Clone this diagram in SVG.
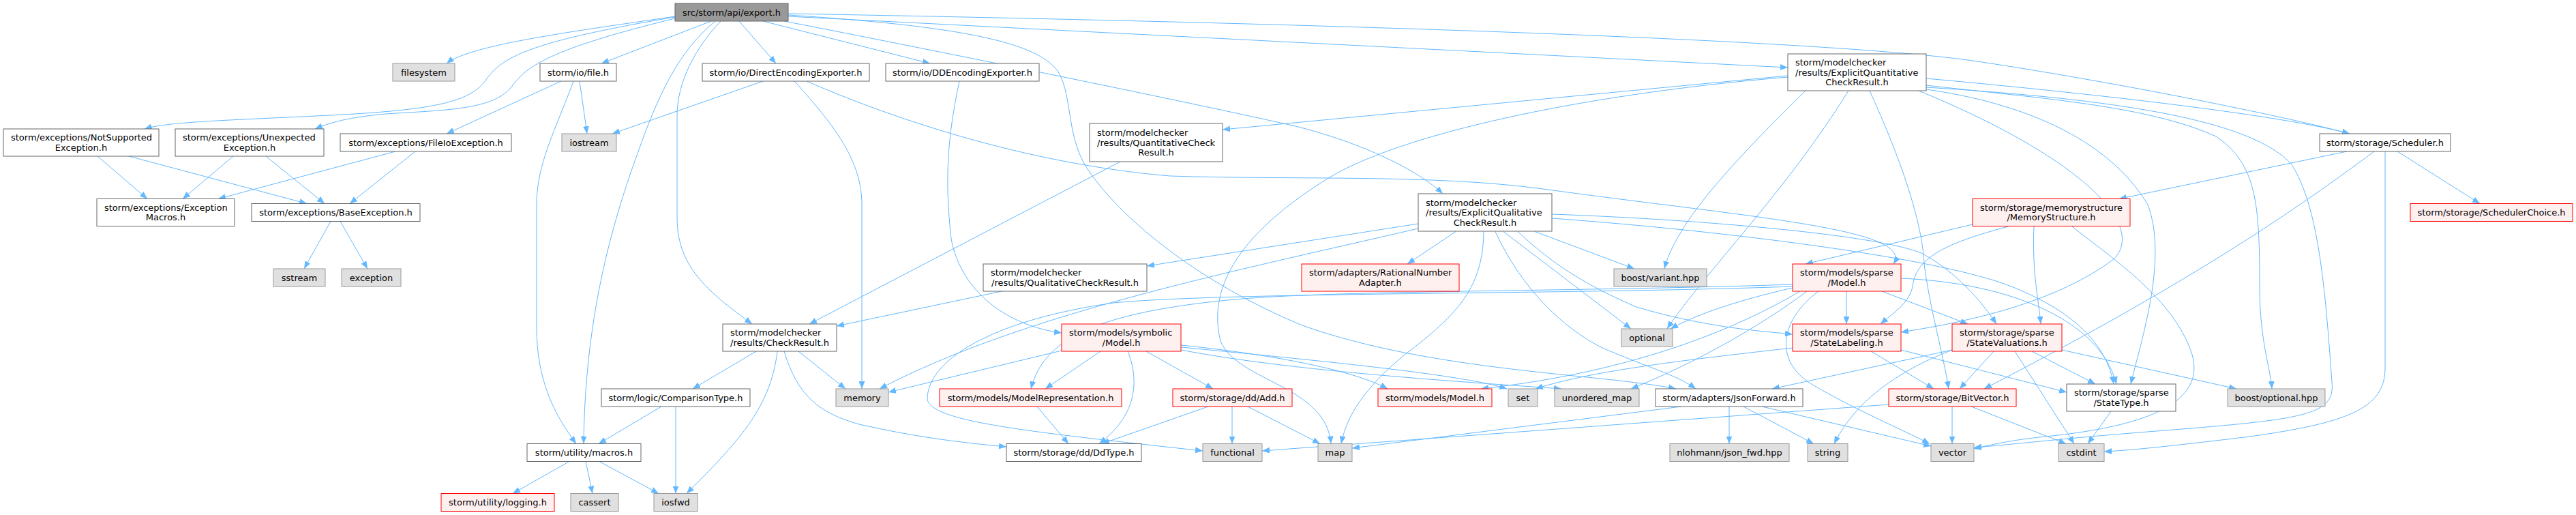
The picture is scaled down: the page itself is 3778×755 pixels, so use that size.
<svg xmlns="http://www.w3.org/2000/svg" width="3778" height="755" viewBox="0 0 3778 755">
<style>
text{font-family:"DejaVu Sans","Liberation Sans",sans-serif;font-size:13px;fill:#000}
.m{text-anchor:middle}
.l{text-anchor:start}
.n rect{fill:#fff;stroke:#666;stroke-width:1}
.x rect{fill:#e0e0e0;stroke:#999;stroke-width:1}
.r rect{fill:#fff0f0;stroke:#f00;stroke-width:1}
.root rect{fill:#999;stroke:#666;stroke-width:1}
#edges path{fill:none;stroke:#63b8ff;stroke-width:1;marker-end:url(#a)}
</style>
<defs>
<marker id="a" markerWidth="11" markerHeight="9" refX="11" refY="4.5" orient="auto" markerUnits="userSpaceOnUse"><path d="M0,0 L11,4.5 L0,9 z" fill="#63b8ff"/></marker>
</defs>
<rect width="3778" height="755" fill="#fff"/>
<g id="edges">
<path d="M990,24 C850,45 690,65 655,93"/>
<path d="M990,25 C770,62 735,85 712,118 C690,150 630,160 520,167 C360,176 250,177 212,189"/>
<path d="M990,27 C805,72 772,98 752,125 C728,158 670,161 580,166 C520,170 488,178 462,189"/>
<path d="M1043,31 L882,93"/>
<path d="M1049,31 C995,75 965,140 935,225 C895,335 858,470 856,650.5"/>
<path d="M841,119 C815,190 787,240 787,300 L787,480 C787,560 815,610 845,650.5"/>
<path d="M1057,31 C1020,70 993,120 993,170 L993,320 C993,395 1045,432 1103,475"/>
<path d="M1084,31 L1138,93"/>
<path d="M1119,31 L1364,93"/>
<path d="M1156,20 C2000,35 2700,60 2900,90 C3100,120 3350,170 3446,196"/>
<path d="M1156,24 L2622,99"/>
<path d="M1150,31 C1300,60 1700,140 1900,185 C2000,210 2080,250 2116,284"/>
<path d="M1156,22 C1400,38 1520,60 1552,105 C1575,145 1562,205 1600,255 C1650,325 1760,415 1910,477 C2100,545 2350,548 2458,570"/>
<path d="M823,119 L655,196"/>
<path d="M850,119 L861,196"/>
<path d="M1119,119 L898,196"/>
<path d="M1165,119 C1230,190 1264,240 1264,300 L1264,570"/>
<path d="M1183,119 C1300,170 1500,240 1716,258 C1900,264 2100,255 2263,277 C2560,318 2810,335 2777,387"/>
<path d="M1407,119 C1390,200 1385,260 1395,350 C1410,430 1480,478 1557,488"/>
<path d="M143,229 L216,291.5"/>
<path d="M189,229 L450,298.5"/>
<path d="M342,229 L268,291.5"/>
<path d="M390,229 L476,298.5"/>
<path d="M580,222 L320,291.5"/>
<path d="M609,222 L513,298.5"/>
<path d="M485,324.5 L446,394"/>
<path d="M499,324.5 L539,394"/>
<path d="M1109,515 L1016,570"/>
<path d="M1140,515 C1130,600 1080,650 1007,723.5"/>
<path d="M1171,515 L1240,570"/>
<path d="M1150,515 C1170,580 1200,605 1260,622 C1340,640 1400,648 1476,655"/>
<path d="M970,596 L878,650.5"/>
<path d="M991,596 L991,723.5"/>
<path d="M835,676.5 L752,723.5"/>
<path d="M859,676.5 L869,723.5"/>
<path d="M879,676.5 L966,723.5"/>
<path d="M1643,237 L1187,475"/>
<path d="M1469,427 L1227,478"/>
<path d="M1557,514 L1303,575"/>
<path d="M1614,515 L1533,570"/>
<path d="M1654,515 C1672,560 1666,610 1612,650.5"/>
<path d="M1681,515 L1779,570"/>
<path d="M1732,506 C1850,518 1980,540 2035,570"/>
<path d="M1732,509 C1950,530 2150,550 2210,570"/>
<path d="M1732,513 C1900,545 2150,560 2290,570"/>
<path d="M1521,596 L1567,650.5"/>
<path d="M1772,596 L1616,650.5"/>
<path d="M1807,596 L1807,650.5"/>
<path d="M1830,596 L1936,650.5"/>
<path d="M2080,328 L1682,390"/>
<path d="M2080,335 C1800,400 1500,460 1290,570"/>
<path d="M2629,417 C2300,428 1950,425 1800,440 C1600,460 1530,500 1512,570"/>
<path d="M2629,420 C2300,432 1800,428 1633,444 C1450,470 1360,530 1360,585 C1365,618 1500,632 1764,661"/>
<path d="M2640,427 C2550,480 2400,545 2172,570"/>
<path d="M2708,427 L2708,475"/>
<path d="M2760,427 L2886,475"/>
<path d="M2788,408 C2950,415 3080,470 3104,563"/>
<path d="M2667,427 C2610,470 2600,530 2660,565 C2720,600 2790,630 2830,650.5"/>
<path d="M2650,427 C2580,480 2480,535 2392,570"/>
<path d="M2629,422 C2550,440 2490,460 2450,482"/>
<path d="M2744,515 L2836,570"/>
<path d="M2788,513 L3031,575"/>
<path d="M2629,510 C2450,530 2330,545 2252,570"/>
<path d="M2924,515 L2874,570"/>
<path d="M2980,515 L3073,563"/>
<path d="M2955,515 L3042,650.5"/>
<path d="M2863,513 C2780,545 2720,590 2690,650.5"/>
<path d="M2863,513 L2599,570"/>
<path d="M3024,513 L3280,570"/>
<path d="M2863,596 L2863,650.5"/>
<path d="M2891,596 L3030,650.5"/>
<path d="M2770,593 L1851,661"/>
<path d="M2536,596 L2536,650.5"/>
<path d="M2466,596 L1983,657"/>
<path d="M2557,596 L2660,650.5"/>
<path d="M2584,596 L2832,654"/>
<path d="M3096,603 L3062,650.5"/>
<path d="M3442,222 L3108,291.5"/>
<path d="M3516,222 L3637,298.5"/>
<path d="M3482,222 C3350,320 3200,420 2910,570"/>
<path d="M3498,222 L3498,540 C3498,600 3440,620 3300,640 C3200,652 3130,660 3086,662"/>
<path d="M2825,125 C3000,145 3150,155 3250,200 C3310,240 3314,300 3314,420 C3314,500 3330,540 3332,570"/>
<path d="M2825,115 C3100,140 3350,170 3446,196"/>
<path d="M2825,128 C3100,145 3300,175 3360,240 C3400,300 3410,420 3420,560 C3425,610 3380,615 3150,633 C3000,645 2950,652 2895,656"/>
<path d="M2622,111 L1793,190"/>
<path d="M2622,113 C2300,140 2050,200 1950,260 C1820,340 1770,420 1790,500 C1815,560 1945,565 1952,650.5"/>
<path d="M2648,133 C2560,220 2460,320 2441,394"/>
<path d="M2711,133 C2620,280 2500,400 2445,482"/>
<path d="M2742,133 C2800,260 2820,340 2822,387 C2830,450 2850,520 2858,570"/>
<path d="M2814,133 C3050,230 3150,330 3100,380 C3020,440 2900,470 2788,487"/>
<path d="M2825,131 C2960,150 3090,200 3150,300 C3180,380 3140,500 3125,563"/>
<path d="M2135,339.5 L2064,387"/>
<path d="M2176,339.5 C2175,420 2140,460 2060,520 C2000,570 1975,610 1967,650.5"/>
<path d="M2193,339.5 C2230,420 2290,480 2350,510 C2420,540 2460,550 2487,570"/>
<path d="M2205,339.5 L2392,482"/>
<path d="M2226,339.5 C2280,390 2330,420 2400,450 C2500,480 2580,485 2629,490"/>
<path d="M2251,339.5 L2397,394"/>
<path d="M2276,314 C2500,322 2760,345 2820,372 C2870,400 2905,440 2928,475"/>
<path d="M2276,320 C2550,340 2850,380 2950,420 C3050,460 3090,510 3100,563"/>
<path d="M2893,329 L2648,387"/>
<path d="M2947,331.5 C2860,355 2810,375 2805,420 C2800,445 2775,460 2758,475"/>
<path d="M2983,331.5 C2980,400 2990,440 2993,475"/>
<path d="M3038,331.5 C3100,380 3190,440 3215,520 C3235,590 3150,625 3000,640 C2950,645 2920,652 2895,658"/>
</g>
<g id="export" class="root"><rect x="990" y="5" width="166" height="26"/><text class="m" x="1073" y="22.5">src/storm/api/export.h</text></g>
<g id="filesystem" class="x"><rect x="576" y="93" width="91" height="26"/><text class="m" x="621.5" y="110.5">filesystem</text></g>
<g id="fileh" class="n"><rect x="792" y="93" width="112" height="26"/><text class="m" x="848" y="110.5">storm/io/file.h</text></g>
<g id="directenc" class="n"><rect x="1030" y="93" width="245" height="26"/><text class="m" x="1152.5" y="110.5">storm/io/DirectEncodingExporter.h</text></g>
<g id="ddenc" class="n"><rect x="1299" y="93" width="225" height="26"/><text class="m" x="1411.5" y="110.5">storm/io/DDEncodingExporter.h</text></g>
<g id="explquant" class="n"><rect x="2622" y="79" width="203" height="54"/><text class="l" x="2633" y="96">storm/modelchecker</text><text class="l" x="2633" y="110.5">/results/ExplicitQuantitative</text><text class="m" x="2723.5" y="125">CheckResult.h</text></g>
<g id="scheduler" class="n"><rect x="3402" y="196" width="192" height="26"/><text class="m" x="3498" y="213.5">storm/storage/Scheduler.h</text></g>
<g id="notsupported" class="n"><rect x="5" y="189" width="228" height="40"/><text class="l" x="16" y="206.25">storm/exceptions/NotSupported</text><text class="m" x="119" y="220.75">Exception.h</text></g>
<g id="unexpected" class="n"><rect x="257" y="189" width="218" height="40"/><text class="l" x="268" y="206.25">storm/exceptions/Unexpected</text><text class="m" x="366" y="220.75">Exception.h</text></g>
<g id="fileio" class="n"><rect x="499" y="196" width="251" height="26"/><text class="m" x="624.5" y="213.5">storm/exceptions/FileIoException.h</text></g>
<g id="iostream" class="x"><rect x="824" y="196" width="80" height="26"/><text class="m" x="864" y="213.5">iostream</text></g>
<g id="quantcheck" class="n"><rect x="1598" y="181" width="195" height="56"/><text class="l" x="1609" y="199">storm/modelchecker</text><text class="l" x="1609" y="213.5">/results/QuantitativeCheck</text><text class="m" x="1695.5" y="228">Result.h</text></g>
<g id="explqual" class="n"><rect x="2080" y="284" width="196" height="55"/><text class="l" x="2091" y="301.5">storm/modelchecker</text><text class="l" x="2091" y="316">/results/ExplicitQualitative</text><text class="m" x="2178" y="330.5">CheckResult.h</text></g>
<g id="memstruct" class="r"><rect x="2893" y="291.5" width="231" height="40"/><text class="l" x="2904" y="308.75">storm/storage/memorystructure</text><text class="m" x="3008.5" y="323.25">/MemoryStructure.h</text></g>
<g id="schedchoice" class="r"><rect x="3535" y="298.5" width="238" height="26"/><text class="m" x="3654" y="316">storm/storage/SchedulerChoice.h</text></g>
<g id="excmacros" class="n"><rect x="142" y="291.5" width="202" height="40"/><text class="l" x="153" y="308.75">storm/exceptions/Exception</text><text class="m" x="243" y="323.25">Macros.h</text></g>
<g id="baseexc" class="n"><rect x="369" y="298.5" width="247" height="26"/><text class="m" x="492.5" y="316">storm/exceptions/BaseException.h</text></g>
<g id="sstream" class="x"><rect x="401" y="394" width="76" height="26"/><text class="m" x="439" y="411.5">sstream</text></g>
<g id="exception" class="x"><rect x="501" y="394" width="87" height="26"/><text class="m" x="544.5" y="411.5">exception</text></g>
<g id="qualcheck" class="n"><rect x="1442" y="387" width="240" height="40"/><text class="l" x="1453" y="404.25">storm/modelchecker</text><text class="m" x="1562" y="418.75">/results/QualitativeCheckResult.h</text></g>
<g id="rational" class="r"><rect x="1909" y="387" width="231" height="40"/><text class="l" x="1920" y="404.25">storm/adapters/RationalNumber</text><text class="m" x="2024.5" y="418.75">Adapter.h</text></g>
<g id="boostvariant" class="x"><rect x="2367" y="394" width="136" height="26"/><text class="m" x="2435" y="411.5">boost/variant.hpp</text></g>
<g id="sparsemodel" class="r"><rect x="2629" y="387" width="159" height="40"/><text class="l" x="2640" y="404.25">storm/models/sparse</text><text class="m" x="2708.5" y="418.75">/Model.h</text></g>
<g id="checkresult" class="n"><rect x="1060" y="475" width="167" height="40"/><text class="l" x="1071" y="492.25">storm/modelchecker</text><text class="m" x="1143.5" y="506.75">/results/CheckResult.h</text></g>
<g id="symbolic" class="r"><rect x="1557" y="475" width="175" height="40"/><text class="l" x="1568" y="492.25">storm/models/symbolic</text><text class="m" x="1644.5" y="506.75">/Model.h</text></g>
<g id="optional" class="x"><rect x="2378" y="482" width="75" height="26"/><text class="m" x="2415.5" y="499.5">optional</text></g>
<g id="statelabeling" class="r"><rect x="2629" y="475" width="159" height="40"/><text class="l" x="2640" y="492.25">storm/models/sparse</text><text class="m" x="2708.5" y="506.75">/StateLabeling.h</text></g>
<g id="statevaluations" class="r"><rect x="2863" y="475" width="161" height="40"/><text class="l" x="2874" y="492.25">storm/storage/sparse</text><text class="m" x="2943.5" y="506.75">/StateValuations.h</text></g>
<g id="comparison" class="n"><rect x="882" y="570" width="218" height="26"/><text class="m" x="991" y="587.5">storm/logic/ComparisonType.h</text></g>
<g id="memory" class="x"><rect x="1226" y="570" width="77" height="26"/><text class="m" x="1264.5" y="587.5">memory</text></g>
<g id="modelrep" class="r"><rect x="1378" y="570" width="267" height="26"/><text class="m" x="1511.5" y="587.5">storm/models/ModelRepresentation.h</text></g>
<g id="add" class="r"><rect x="1720" y="570" width="175" height="26"/><text class="m" x="1807.5" y="587.5">storm/storage/dd/Add.h</text></g>
<g id="modelsmodel" class="r"><rect x="2021" y="570" width="167" height="26"/><text class="m" x="2104.5" y="587.5">storm/models/Model.h</text></g>
<g id="set" class="x"><rect x="2212" y="570" width="43" height="26"/><text class="m" x="2233.5" y="587.5">set</text></g>
<g id="unorderedmap" class="x"><rect x="2280" y="570" width="124" height="26"/><text class="m" x="2342" y="587.5">unordered_map</text></g>
<g id="jsonforward" class="n"><rect x="2428" y="570" width="216" height="26"/><text class="m" x="2536" y="587.5">storm/adapters/JsonForward.h</text></g>
<g id="bitvector" class="r"><rect x="2770" y="570" width="187" height="26"/><text class="m" x="2863.5" y="587.5">storm/storage/BitVector.h</text></g>
<g id="statetype" class="n"><rect x="3031" y="563" width="160" height="40"/><text class="l" x="3042" y="580.25">storm/storage/sparse</text><text class="m" x="3111" y="594.75">/StateType.h</text></g>
<g id="boostoptional" class="x"><rect x="3267" y="570" width="143" height="26"/><text class="m" x="3338.5" y="587.5">boost/optional.hpp</text></g>
<g id="macros" class="n"><rect x="773" y="650.5" width="167" height="26"/><text class="m" x="856.5" y="668">storm/utility/macros.h</text></g>
<g id="ddtype" class="n"><rect x="1476" y="650.5" width="198" height="26"/><text class="m" x="1575" y="668">storm/storage/dd/DdType.h</text></g>
<g id="functional" class="x"><rect x="1764" y="650.5" width="87" height="26"/><text class="m" x="1807.5" y="668">functional</text></g>
<g id="map" class="x"><rect x="1933" y="650.5" width="50" height="26"/><text class="m" x="1958" y="668">map</text></g>
<g id="nlohmann" class="x"><rect x="2449" y="650.5" width="175" height="26"/><text class="m" x="2536.5" y="668">nlohmann/json_fwd.hpp</text></g>
<g id="string" class="x"><rect x="2651" y="650.5" width="59" height="26"/><text class="m" x="2680.5" y="668">string</text></g>
<g id="vector" class="x"><rect x="2832" y="650.5" width="63" height="26"/><text class="m" x="2863.5" y="668">vector</text></g>
<g id="cstdint" class="x"><rect x="3019" y="650.5" width="67" height="26"/><text class="m" x="3052.5" y="668">cstdint</text></g>
<g id="logging" class="r"><rect x="647" y="723.5" width="166" height="26"/><text class="m" x="730" y="741">storm/utility/logging.h</text></g>
<g id="cassert" class="x"><rect x="837" y="723.5" width="70" height="26"/><text class="m" x="872" y="741">cassert</text></g>
<g id="iosfwd" class="x"><rect x="959" y="723.5" width="64" height="26"/><text class="m" x="991" y="741">iosfwd</text></g>
</svg>
